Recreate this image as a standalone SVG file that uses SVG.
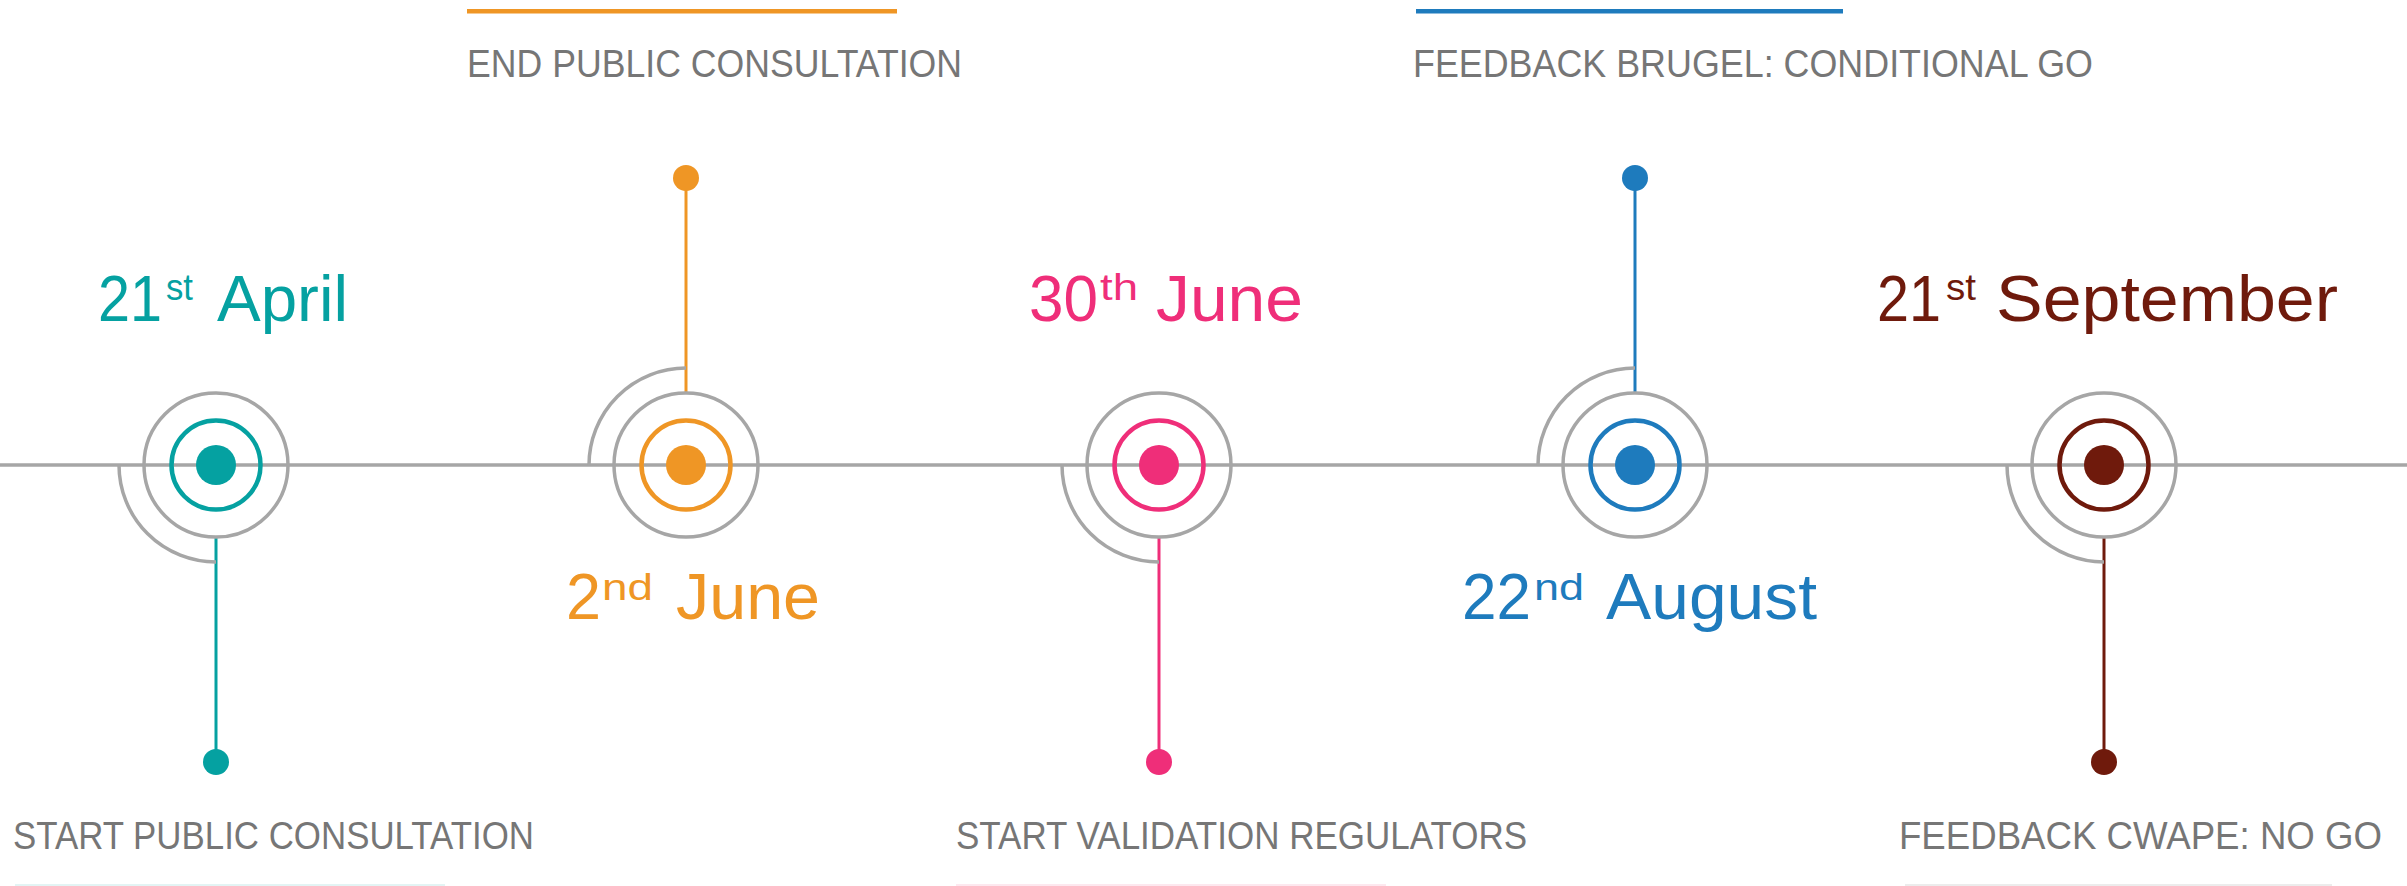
<svg xmlns="http://www.w3.org/2000/svg" width="2407" height="886" viewBox="0 0 2407 886">
<style>
.ring{fill:none;stroke:#a6a6a6;stroke-width:3.5}
.arc{fill:none;stroke:#a6a6a6;stroke-width:3.5}
.lbl{font-family:"Liberation Sans",Arial,sans-serif;font-size:38px;fill:#767676}
.date{font-family:"Liberation Sans",Arial,sans-serif;font-size:64px}
.sup{font-family:"Liberation Sans",Arial,sans-serif;font-size:36px}
.teal{fill:#05a1a1;stroke:#05a1a1}
.orange{fill:#ef9625;stroke:#ef9625}
.pink{fill:#ef2e79;stroke:#ef2e79}
.blue{fill:#1e7bbd;stroke:#1e7bbd}
.maroon{fill:#6f1a0c;stroke:#6f1a0c}
text{stroke:none}
</style>
<rect width="2407" height="886" fill="#ffffff"/>
<g id="connectors">
<line x1="0" y1="465" x2="2407" y2="465" stroke="#a6a6a6" stroke-width="3.5"/>
<line x1="216" y1="537" x2="216" y2="762" class="teal" stroke-width="3"/>
<line x1="686" y1="393" x2="686" y2="178" class="orange" stroke-width="3"/>
<line x1="1159" y1="537" x2="1159" y2="762" class="pink" stroke-width="3"/>
<line x1="1635" y1="393" x2="1635" y2="178" class="blue" stroke-width="3"/>
<line x1="2104" y1="537" x2="2104" y2="762" class="maroon" stroke-width="3"/>
</g>
<g id="node-april">
<path class="arc" d="M119 465 A97 97 0 0 0 216 562"/>
<circle class="ring" cx="216" cy="465" r="72"/>
<circle cx="216" cy="465" r="44.5" fill="none" stroke="#05a1a1" stroke-width="4.5"/>
<circle cx="216" cy="465" r="20" fill="#05a1a1"/>
<circle cx="216" cy="762" r="13" fill="#05a1a1"/>
<text class="date" x="98" y="321" fill="#05a1a1" textLength="64" lengthAdjust="spacingAndGlyphs">21</text>
<text class="sup" x="166" y="300" fill="#05a1a1" textLength="27" lengthAdjust="spacingAndGlyphs">st</text>
<text class="date" x="217" y="321" fill="#05a1a1" textLength="131" lengthAdjust="spacingAndGlyphs">April</text>
<text class="lbl" x="13" y="849" textLength="521" lengthAdjust="spacingAndGlyphs">START PUBLIC CONSULTATION</text>
<rect x="15" y="884" width="430" height="2" fill="#e3f4f4"/>
</g>
<g id="node-june2">
<path class="arc" d="M589 465 A97 97 0 0 1 686 368"/>
<circle class="ring" cx="686" cy="465" r="72"/>
<circle cx="686" cy="465" r="44.5" fill="none" stroke="#ef9625" stroke-width="4.5"/>
<circle cx="686" cy="465" r="20" fill="#ef9625"/>
<circle cx="686" cy="178" r="13" fill="#ef9625"/>
<rect x="467" y="9" width="430" height="4.5" fill="#ef9625"/>
<text class="lbl" x="467" y="77" textLength="495" lengthAdjust="spacingAndGlyphs">END PUBLIC CONSULTATION</text>
<text class="date" x="566" y="619" fill="#ef9625" textLength="35" lengthAdjust="spacingAndGlyphs">2</text>
<text class="sup" x="602" y="600" fill="#ef9625" textLength="51" lengthAdjust="spacingAndGlyphs">nd</text>
<text class="date" x="676" y="619" fill="#ef9625" textLength="144" lengthAdjust="spacingAndGlyphs">June</text>
</g>
<g id="node-june30">
<path class="arc" d="M1062 465 A97 97 0 0 0 1159 562"/>
<circle class="ring" cx="1159" cy="465" r="72"/>
<circle cx="1159" cy="465" r="44.5" fill="none" stroke="#ef2e79" stroke-width="4.5"/>
<circle cx="1159" cy="465" r="20" fill="#ef2e79"/>
<circle cx="1159" cy="762" r="13" fill="#ef2e79"/>
<text class="date" x="1029" y="321" fill="#ef2e79" textLength="69" lengthAdjust="spacingAndGlyphs">30</text>
<text class="sup" x="1100" y="300" fill="#ef2e79" textLength="38" lengthAdjust="spacingAndGlyphs">th</text>
<text class="date" x="1156" y="321" fill="#ef2e79" textLength="147" lengthAdjust="spacingAndGlyphs">June</text>
<text class="lbl" x="956" y="849" textLength="571" lengthAdjust="spacingAndGlyphs">START VALIDATION REGULATORS</text>
<rect x="956" y="884" width="430" height="2" fill="#fde8ef"/>
</g>
<g id="node-august">
<path class="arc" d="M1538 465 A97 97 0 0 1 1635 368"/>
<circle class="ring" cx="1635" cy="465" r="72"/>
<circle cx="1635" cy="465" r="44.5" fill="none" stroke="#1e7bbd" stroke-width="4.5"/>
<circle cx="1635" cy="465" r="20" fill="#1e7bbd"/>
<circle cx="1635" cy="178" r="13" fill="#1e7bbd"/>
<rect x="1416" y="9" width="427" height="4.5" fill="#1e7bbd"/>
<text class="lbl" x="1413" y="77" textLength="680" lengthAdjust="spacingAndGlyphs">FEEDBACK BRUGEL: CONDITIONAL GO</text>
<text class="date" x="1462" y="619" fill="#1e7bbd" textLength="69" lengthAdjust="spacingAndGlyphs">22</text>
<text class="sup" x="1534" y="600" fill="#1e7bbd" textLength="50" lengthAdjust="spacingAndGlyphs">nd</text>
<text class="date" x="1606" y="619" fill="#1e7bbd" textLength="211" lengthAdjust="spacingAndGlyphs">August</text>
</g>
<g id="node-september">
<path class="arc" d="M2007 465 A97 97 0 0 0 2104 562"/>
<circle class="ring" cx="2104" cy="465" r="72"/>
<circle cx="2104" cy="465" r="44.5" fill="none" stroke="#6f1a0c" stroke-width="4.5"/>
<circle cx="2104" cy="465" r="20" fill="#6f1a0c"/>
<circle cx="2104" cy="762" r="13" fill="#6f1a0c"/>
<text class="date" x="1877" y="321" fill="#6f1a0c" textLength="64" lengthAdjust="spacingAndGlyphs">21</text>
<text class="sup" x="1946" y="300" fill="#6f1a0c" textLength="30" lengthAdjust="spacingAndGlyphs">st</text>
<text class="date" x="1996" y="321" fill="#6f1a0c" textLength="342" lengthAdjust="spacingAndGlyphs">September</text>
<text class="lbl" x="1899" y="849" textLength="483" lengthAdjust="spacingAndGlyphs">FEEDBACK CWAPE: NO GO</text>
<rect x="1905" y="884" width="427" height="2" fill="#ececec"/>
</g>
</svg>
